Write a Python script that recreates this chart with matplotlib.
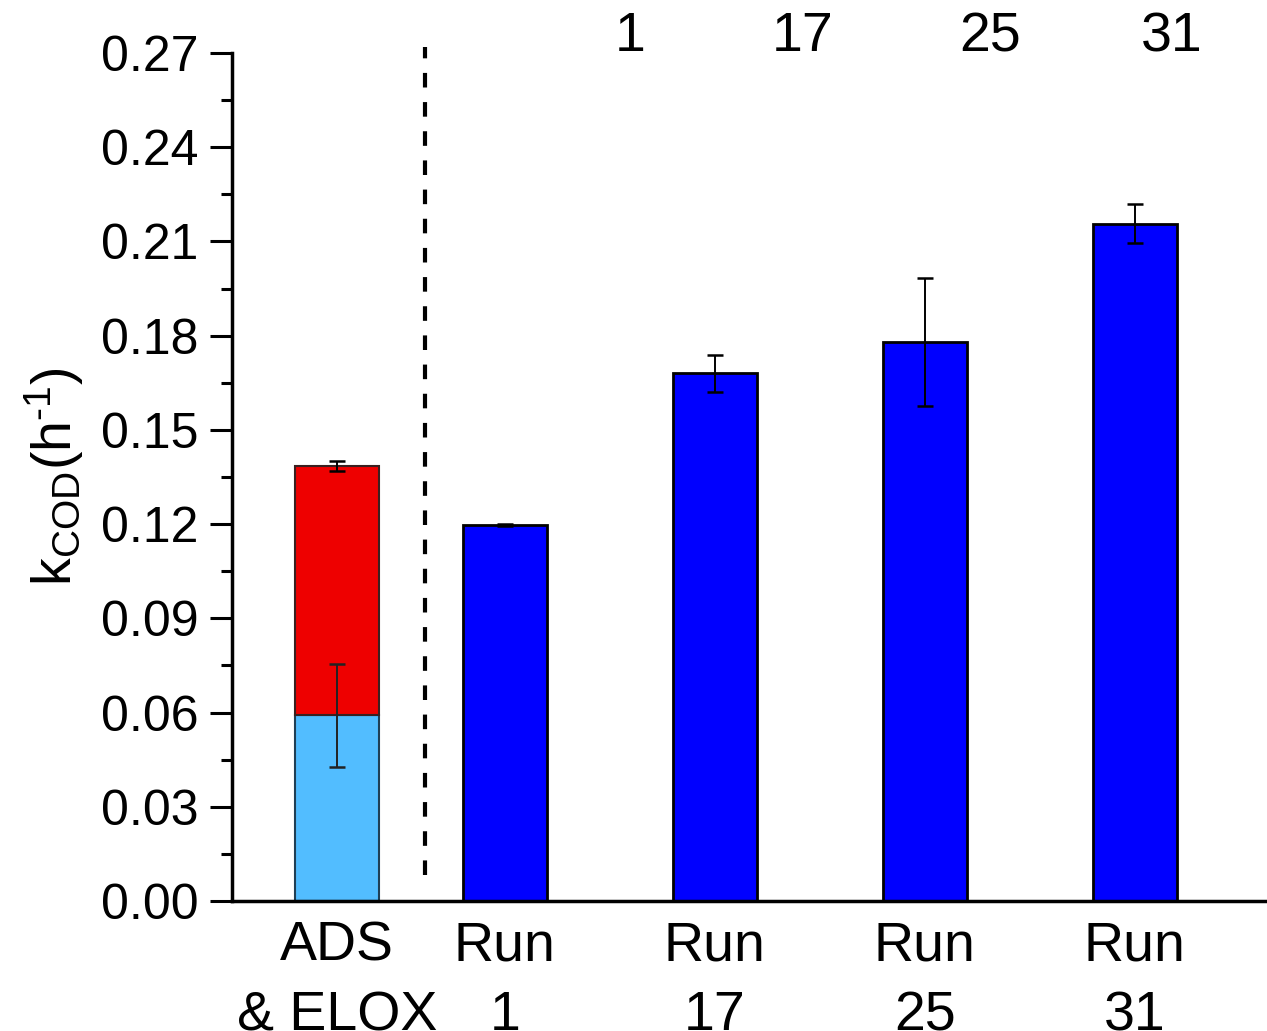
import matplotlib
matplotlib.use('Agg')
import matplotlib.pyplot as plt
from matplotlib.ticker import MultipleLocator

# DATA
# ----
categories = ['ADS\n& ELOX', 'Run\n1', 'Run\n17', 'Run\n25', 'Run\n31']
ads_part = 0.0592      # lower (light blue) segment
ads_err = 0.0164
elox_total = 0.1385    # top of the red segment
elox_err = 0.0015
run_values = [0.1197, 0.1681, 0.1780, 0.2156]
run_errors = [0.0003, 0.0059, 0.0205, 0.0062]
top_labels = ['1', '17', '25', '31']
# ----

plt.rcParams['font.family'] = ['Liberation Sans', 'DejaVu Sans']
plt.rcParams['mathtext.fontset'] = 'custom'
plt.rcParams['mathtext.rm'] = 'Liberation Sans'
plt.rcParams['mathtext.it'] = 'Liberation Sans'

fs = 40

fig = plt.figure(figsize=(12.67, 10.31), dpi=100)
ax = fig.add_axes([0.1831, 0.1261, 0.8169, 0.8225])

x_ads = 0.2
x_runs = [1, 2, 3, 4]
width = 0.4
ekw = dict(elinewidth=1.4, capthick=1.8)

# stacked ADS / ELOX bar
ax.bar(x_ads, ads_part, width, color='#52BDFF', edgecolor='#1f3f55', linewidth=1.5, zorder=2)
ax.bar(x_ads, elox_total - ads_part, width, bottom=ads_part, color='#EE0000',
       edgecolor='#3a2020', linewidth=1.5, zorder=2)
ax.errorbar(x_ads, ads_part, yerr=ads_err, fmt='none', ecolor='#222222', capsize=6, zorder=3, **ekw)
ax.errorbar(x_ads, elox_total, yerr=elox_err, fmt='none', ecolor='black', capsize=6, zorder=3, **ekw)

# runs
ax.bar(x_runs, run_values, width, color='#0000FF', edgecolor='black', linewidth=2, zorder=2)
ax.errorbar(x_runs, run_values, yerr=run_errors, fmt='none', ecolor='black', capsize=6, zorder=3, **ekw)

# separator
ax.plot([0.62, 0.62], [0.0083, 0.2719], ls=(0, (3.5, 3.5)), color='black', lw=3, clip_on=False)

# labels on top
for xt, lab in zip([1.595, 2.419, 3.31, 4.176], top_labels):
    ax.text(xt, 0.2750, lab, ha='center', va='center', fontsize=fs)

ax.set_xlim(-0.3, 4.63)
ax.set_ylim(0, 0.27)
ax.set_xticks([x_ads] + x_runs)
ax.set_xticklabels(categories, fontsize=fs, linespacing=1.45)
ax.tick_params(axis='x', length=0, pad=14)
ax.yaxis.set_major_locator(MultipleLocator(0.03))
ax.yaxis.set_minor_locator(MultipleLocator(0.015))
ax.set_yticklabels(['%.2f' % v for v in ax.get_yticks()])
ax.tick_params(axis='y', which='major', length=16, width=2.2, labelsize=36, pad=8)
ax.tick_params(axis='y', which='minor', length=8, width=2.2)
ax.set_ylabel(r'k$_{\mathrm{COD}}$(h$^{\text{-1}}$)', fontsize=fs, labelpad=11)

ax.spines['top'].set_visible(False)
ax.spines['right'].set_visible(False)
ax.spines['left'].set_linewidth(2.5)
ax.spines['bottom'].set_linewidth(2.5)

fig.savefig('out.png', dpi=100)
